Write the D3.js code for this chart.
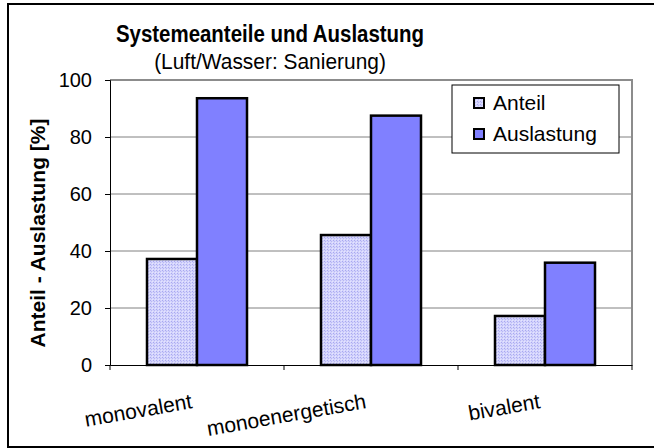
<!DOCTYPE html>
<meta charset="utf-8">
<style>
    body { margin: 0; background: #fff; }
    text { font-family: "Liberation Sans", Arial, sans-serif; fill: #000; }
    .grid line { stroke: #808080; stroke-width: 1; }
</style>
<svg width="654" height="448"></svg>
<script src="https://cdnjs.cloudflare.com/ajax/libs/d3/7.8.5/d3.min.js"></script>
<script>
    // chart data
    var categories = ["monovalent", "monoenergetisch", "bivalent"];
    var seriesNames = ["Anteil", "Auslastung"];
    var anteil = [37.2, 45.6, 17.2];
    var auslastung = [93.6, 87.5, 35.9];
    var yTicks = [0, 20, 40, 60, 80, 100];

    var colors = { "Anteil": "url(#dots)", "Auslastung": "#8080ff" };

    var svg = d3.select("svg");
    var defs = svg.append("defs");
    var pat = defs.append("pattern")
        .attr("id", "dots")
        .attr("width", 3).attr("height", 3)
        .attr("patternUnits", "userSpaceOnUse");
    pat.append("rect").attr("width", 3).attr("height", 3).attr("fill", "#d4d4fc");
    pat.append("rect").attr("x", 0).attr("y", 0).attr("width", 1).attr("height", 1).attr("fill", "#a8a8f0");
    pat.append("rect").attr("x", 1).attr("y", 1).attr("width", 1).attr("height", 1).attr("fill", "#b8b8f4");
    pat.append("rect").attr("x", 2).attr("y", 2).attr("width", 1).attr("height", 1).attr("fill", "#e4e4ff");

    // outer frame
    svg.append("rect")
        .attr("x", 8).attr("y", 4)
        .attr("width", 652).attr("height", 443)
        .attr("fill", "#fff")
        .attr("stroke", "#000").attr("stroke-width", 2);

    var plotL = 110, plotR = 632, plotT = 80, plotB = 365;

    var x = d3.scaleBand().domain(categories).range([plotL, plotR]).padding(0);
    var xs = d3.scaleBand().domain(seriesNames).range([0, x.bandwidth()])
        .paddingInner(0).paddingOuter(0.74);
    var y = d3.scaleLinear().domain([0, 100]).range([plotB, plotT]);

    // gridlines
    svg.append("g").attr("class", "grid")
        .selectAll("line")
        .data(yTicks.filter(function (d) { return d > 0 && d < 100; }))
        .enter().append("line")
        .attr("x1", plotL).attr("x2", plotR)
        .attr("y1", function (d) { return y(d); })
        .attr("y2", function (d) { return y(d); });

    // plot border top / right
    svg.append("path")
        .attr("d", "M" + plotL + "," + plotT + "H" + plotR + "V" + plotB)
        .attr("fill", "none")
        .attr("stroke", "#8c8c8c").attr("stroke-width", 2);

    // bars
    var rows = categories.map(function (c, i) {
        return [{ cat: c, s: "Anteil", v: anteil[i] }, { cat: c, s: "Auslastung", v: auslastung[i] }];
    });
    svg.append("g")
        .selectAll("g")
        .data(rows)
        .enter().append("g")
        .selectAll("rect")
        .data(function (d) { return d; })
        .enter().append("rect")
        .attr("x", function (d) { return x(d.cat) + xs(d.s); })
        .attr("y", function (d) { return y(d.v); })
        .attr("width", xs.bandwidth())
        .attr("height", function (d) { return y(0) - y(d.v); })
        .attr("fill", function (d) { return colors[d.s]; })
        .attr("stroke", "#000").attr("stroke-width", 2.5);

    // y axis
    var yAxis = svg.append("g")
        .attr("transform", "translate(" + plotL + ",0)")
        .call(d3.axisLeft(y).tickValues(yTicks).tickSize(5).tickPadding(13));
    yAxis.select(".domain").attr("stroke", "#000");
    yAxis.selectAll("text")
        .attr("font-size", 20)
        .attr("font-family", "Liberation Sans");

    // x axis
    var xAxis = svg.append("g")
        .attr("transform", "translate(0," + plotB + ")")
        .call(d3.axisBottom(x).tickValues([]).tickSizeOuter(0));
    xAxis.select(".domain").attr("stroke", "#000");
    xAxis.selectAll(".cat-tick")
        .data(categories.concat(["end"]))
        .enter().append("line")
        .attr("class", "cat-tick")
        .attr("x1", function (d) { return d === "end" ? plotR : x(d); })
        .attr("x2", function (d) { return d === "end" ? plotR : x(d); })
        .attr("y1", 0).attr("y2", 5)
        .attr("stroke", "#000");

    // rotated category labels
    svg.append("g")
        .selectAll("text")
        .data(categories)
        .enter().append("text")
        .attr("transform", function (d) {
            return "translate(" + (x(d) + x.bandwidth() / 2 - 4) + "," + 408 + ") rotate(-10)";
        })
        .attr("text-anchor", "end")
        .attr("font-size", 21)
        .text(function (d) { return d; });

    // y axis title
    svg.append("text")
        .attr("transform", "translate(45,233) rotate(-90)")
        .attr("text-anchor", "middle")
        .attr("font-size", 21)
        .attr("font-weight", "bold")
        .text("Anteil - Auslastung [%]");

    // titles
    svg.append("text")
        .attr("transform", "translate(270,42) scale(0.87,1)")
        .attr("text-anchor", "middle")
        .attr("font-size", 23.5)
        .attr("font-weight", "bold")
        .text("Systemeanteile und Auslastung");
    svg.append("text")
        .attr("transform", "translate(270,68.5) scale(0.93,1)")
        .attr("text-anchor", "middle")
        .attr("font-size", 22.5)
        .text("(Luft/Wasser: Sanierung)");

    // legend
    var legend = svg.append("g").attr("transform", "translate(452,85)");
    legend.append("rect")
        .attr("width", 167).attr("height", 68)
        .attr("fill", "#fff").attr("stroke", "#000").attr("stroke-width", 1);
    var li = legend.selectAll("g.item")
        .data(seriesNames)
        .enter().append("g")
        .attr("class", "item")
        .attr("transform", function (d, i) { return "translate(22," + (13 + i * 31) + ")"; });
    li.append("rect")
        .attr("width", 10).attr("height", 10)
        .attr("fill", function (d) { return colors[d]; })
        .attr("stroke", "#000").attr("stroke-width", 2);
    li.append("text")
        .attr("x", 19).attr("y", 12)
        .attr("font-size", 21)
        .text(function (d) { return d; });
</script>
